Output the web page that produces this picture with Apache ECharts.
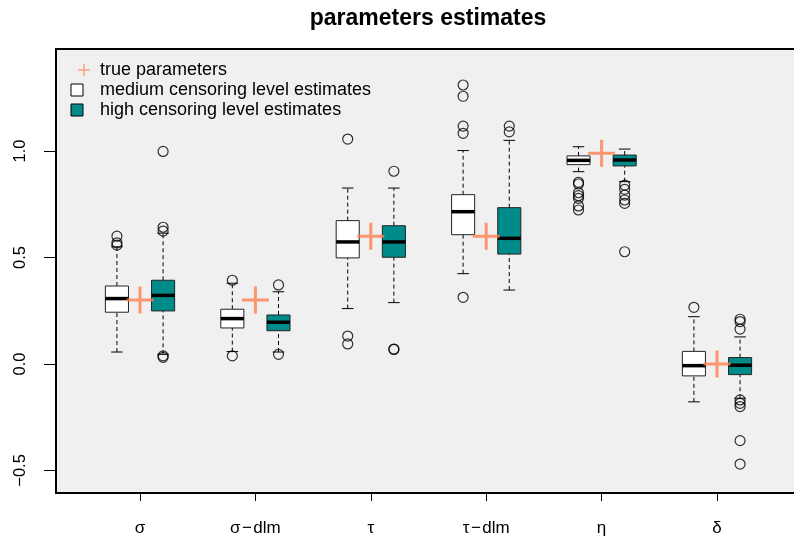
<!DOCTYPE html>
<html>
<head>
<meta charset="utf-8">
<script src="https://cdn.jsdelivr.net/npm/echarts@6/dist/echarts.min.js"></script>
<style>
  html, body { margin: 0; padding: 0; background: #fff; }
  #main { width: 794px; height: 543px; }
</style>
</head>
<body>
<div id="main"></div>
<script>
// categories on the x axis
const categories = ['σ', 'σ\u200a−\u200adlm', 'τ', 'τ\u200a−\u200adlm', 'η', 'δ']
// box stats: [lower whisker, q1, median, q3, upper whisker]
const mediumStats = [
  [0.056, 0.243, 0.307, 0.366, 0.550],
  [0.058, 0.169, 0.213, 0.257, 0.379],
  [0.260, 0.498, 0.573, 0.673, 0.826],
  [0.424, 0.607, 0.715, 0.795, 1.002],
  [0.903, 0.936, 0.956, 0.977, 1.020],
  [-0.178, -0.056, -0.008, 0.059, 0.222]
]
const highStats = [
  [0.045, 0.249, 0.322, 0.393, 0.614],
  [0.056, 0.156, 0.196, 0.230, 0.339],
  [0.288, 0.501, 0.573, 0.649, 0.826],
  [0.347, 0.516, 0.590, 0.734, 1.050],
  [0.856, 0.930, 0.958, 0.981, 1.009],
  [-0.161, -0.050, -0.006, 0.030, 0.127]
]
// outliers per category
const mediumOutliers = [
  [0.558, 0.569, 0.600],
  [0.393, 0.038],
  [1.056, 0.131, 0.094],
  [1.310, 1.257, 1.117, 1.083, 0.313],
  [0.853, 0.845, 0.804, 0.790, 0.778, 0.742, 0.723],
  [0.266]
]
const highOutliers = [
  [0.998, 0.642, 0.624, 0.031, 0.038],
  [0.371, 0.045],
  [0.905, 0.070, 0.068],
  [1.117, 1.090],
  [0.840, 0.820, 0.793, 0.770, 0.754, 0.527],
  [0.210, 0.199, 0.164, -0.169, -0.185, -0.200, -0.360, -0.470]
]
// true parameter values
const trueParams = [0.3, 0.3, 0.6, 0.6, 0.99, 0.0]
const yTicks = [-0.5, 0, 0.5, 1.0]
const xTicks = [1, 2, 3, 4, 5, 6]

const OFFSET = 0.2
const HALF = 0.1

const boxRows = (stats) => stats.map((s, i) => [i + 1].concat(s))
const outlierPoints = (list, off) => {
  let pts = []
  list.forEach((vals, i) => vals.forEach(v => pts.push([i + 1 + off, v])))
  return pts
}

const makeRender = (off, fill) => function (params, api) {
  const x = api.value(0) + off
  const lo = api.coord([x, api.value(1)])
  const q1 = api.coord([x, api.value(2)])
  const med = api.coord([x, api.value(3)])
  const q3 = api.coord([x, api.value(4)])
  const hi = api.coord([x, api.value(5)])
  const half = api.size([HALF, 0])[0]
  const cap = half / 2
  const cx = lo[0]
  const dash = {stroke: '#000', lineWidth: 1, lineDash: [4, 3]}
  const solid = {stroke: '#000', lineWidth: 1}
  return {
    type: 'group',
    children: [
      {type: 'line', shape: {x1: cx, y1: lo[1], x2: cx, y2: q1[1]}, style: dash},
      {type: 'line', shape: {x1: cx, y1: q3[1], x2: cx, y2: hi[1]}, style: dash},
      {type: 'line', shape: {x1: cx - cap, y1: lo[1], x2: cx + cap, y2: lo[1]}, style: solid},
      {type: 'line', shape: {x1: cx - cap, y1: hi[1], x2: cx + cap, y2: hi[1]}, style: solid},
      {type: 'rect', shape: {x: cx - half, y: q3[1], width: 2 * half, height: q1[1] - q3[1]},
        style: {fill: fill, stroke: '#222', lineWidth: 1}},
      {type: 'line', shape: {x1: cx - half, y1: med[1], x2: cx + half, y2: med[1]},
        style: {stroke: '#000', lineWidth: 3.5}}
    ]
  }
}

const crossPath = 'path://M0,12 L27,12 L27,15 L0,15 Z M12,0 L15,0 L15,27 L12,27 Z'
const legendFont = {fontSize: 18, fontFamily: 'Liberation Sans', fill: '#000', verticalAlign: 'middle'}

const chart = echarts.init(document.getElementById('main'))
const option = {
  animation: false,
  title: {
    text: 'parameters estimates',
    left: 423,
    top: 2,
    textAlign: 'center',
    textStyle: {fontFamily: 'Liberation Sans', fontSize: 23, fontWeight: 'bold', color: '#000'}
  },
  grid: {
    left: 56, top: 49, width: 742, height: 444,
    outerBoundsMode: 'none',
    show: true, backgroundColor: '#F0F0F0', borderColor: '#000', borderWidth: 2
  },
  xAxis: {
    type: 'value',
    min: 0.272,
    max: 6.702,
    axisLine: {show: false, onZero: false},
    splitLine: {show: false},
    axisTick: {show: true, length: 8, customValues: xTicks, lineStyle: {color: '#000'}},
    axisLabel: {
      customValues: xTicks,
      margin: 27,
      fontSize: 17,
      fontFamily: 'Liberation Sans',
      color: '#000',
      formatter: v => categories[Math.round(v) - 1] || ''
    }
  },
  yAxis: {
    type: 'value',
    min: -0.606,
    max: 1.479,
    axisLine: {show: false, onZero: false},
    splitLine: {show: false},
    axisTick: {show: true, length: 12, customValues: yTicks, lineStyle: {color: '#000'}},
    axisLabel: {
      customValues: yTicks,
      rotate: 90,
      margin: 27,
      fontSize: 16.5,
      fontFamily: 'Liberation Sans',
      color: '#000',
      formatter: v => v < 0 ? '−' + Math.abs(v).toFixed(1) : v.toFixed(1)
    }
  },
  graphic: [
    {type: 'line', shape: {x1: 78, y1: 70, x2: 90, y2: 70}, style: {stroke: '#FFA07A', lineWidth: 1.5}},
    {type: 'line', shape: {x1: 84, y1: 64, x2: 84, y2: 76}, style: {stroke: '#FFA07A', lineWidth: 1.5}},
    {type: 'rect', shape: {x: 71, y: 84, width: 12, height: 12}, style: {fill: '#fff', stroke: '#000', lineWidth: 1}},
    {type: 'rect', shape: {x: 71, y: 104, width: 12, height: 12}, style: {fill: '#008B8B', stroke: '#000', lineWidth: 1}},
    {type: 'text', x: 100, y: 70, style: Object.assign({text: 'true parameters'}, legendFont)},
    {type: 'text', x: 100, y: 90, style: Object.assign({text: 'medium censoring level estimates'}, legendFont)},
    {type: 'text', x: 100, y: 110, style: Object.assign({text: 'high censoring level estimates'}, legendFont)}
  ],
  series: [
    {
      name: 'medium censoring level estimates',
      type: 'custom',
      renderItem: makeRender(-OFFSET, '#fff'),
      encode: {x: 0, y: [1, 2, 3, 4, 5]},
      data: boxRows(mediumStats)
    },
    {
      name: 'high censoring level estimates',
      type: 'custom',
      renderItem: makeRender(OFFSET, '#008B8B'),
      encode: {x: 0, y: [1, 2, 3, 4, 5]},
      data: boxRows(highStats)
    },
    {
      type: 'scatter',
      symbol: 'circle',
      symbolSize: 10,
      itemStyle: {color: 'rgba(0,0,0,0)', borderColor: '#000', borderWidth: 1.2},
      data: outlierPoints(mediumOutliers, -OFFSET).concat(outlierPoints(highOutliers, OFFSET))
    },
    {
      name: 'true parameters',
      type: 'scatter',
      symbol: crossPath,
      symbolSize: 27,
      itemStyle: {color: '#FF7F50'},
      z: 5,
      data: trueParams.map((v, i) => [i + 1, v])
    }
  ]
}
chart.setOption(option)
</script>
</body>
</html>
